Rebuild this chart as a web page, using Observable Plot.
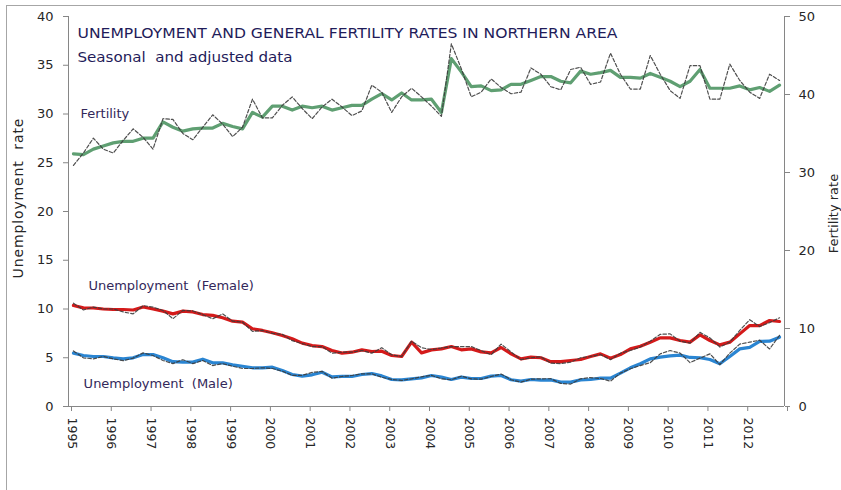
<!DOCTYPE html>
<html>
<head>
<meta charset="utf-8">
<script src="https://cdn.jsdelivr.net/npm/d3@7"></script>
<script src="https://cdn.jsdelivr.net/npm/@observablehq/plot@0.6"></script>
<style>
  html, body { margin: 0; padding: 0; background: #fff; }
  #wrap { position: relative; width: 841px; height: 490px; overflow: hidden; }
  #frameTop { position: absolute; left: 6px; top: 5px; width: 840px; height: 1px; background: #a6a6a6; }
  #frameLeft { position: absolute; left: 6px; top: 5px; width: 1px; height: 490px; background: #a6a6a6; }
  #chart { position: absolute; left: 0; top: 0; }
</style>
</head>
<body>
<div id="wrap"><div id="chart"></div><div id="frameTop"></div><div id="frameLeft"></div></div>
<script>
// ---- data (quarterly, 1995Q1 .. 2012Q4) ----
const startYear = 1995;
const endYear = 2013;
const yearTicks = d3.range(1995, 2014);
const leftTicks = [0, 5, 10, 15, 20, 25, 30, 35, 40];
const rightTicks = [0, 10, 20, 30, 40, 50];

const fertilitySeasonal = [
  30.9, 32.5, 34.4, 33.0, 32.5, 34.1, 35.6, 34.5, 33.0, 36.9, 36.8, 35.0,
  34.2, 35.8, 37.4, 36.2, 34.6, 35.8, 39.4, 37.0, 37.0, 38.6, 39.7, 38.2,
  36.9, 38.4, 39.4, 38.4, 37.3, 37.9, 41.2, 40.3, 37.7, 39.7, 40.8, 39.7,
  38.5, 37.2, 46.5, 43.3, 39.7, 40.3, 42.0, 40.9, 40.1, 40.3, 43.4, 42.6,
  41.0, 40.6, 43.2, 43.5, 41.3, 41.6, 45.3, 42.6, 40.7, 40.7, 45.0, 42.6,
  40.5, 39.5, 43.7, 43.7, 39.4, 39.4, 43.9, 41.8, 40.3, 39.5, 42.6, 41.8
];
const fertilityAdjusted = [
  32.4, 32.3, 33.0, 33.4, 33.8, 34.0, 34.0, 34.4, 34.4, 36.5, 35.8, 35.3,
  35.6, 35.7, 35.7, 36.3, 35.9, 35.6, 37.7, 37.1, 38.5, 38.5, 38.0, 38.5,
  38.3, 38.5, 38.0, 38.3, 38.6, 38.6, 39.4, 40.1, 39.3, 40.2, 39.3, 39.3,
  39.4, 37.7, 44.6, 42.9, 41.0, 41.1, 40.5, 40.6, 41.3, 41.3, 41.8, 42.3,
  42.3, 41.7, 41.5, 43.0, 42.6, 42.8, 43.1, 42.2, 42.2, 42.1, 42.7, 42.2,
  41.7, 41.0, 41.7, 43.2, 40.8, 40.8, 40.8, 41.1, 40.6, 40.9, 40.4, 41.2
];
const femaleSeasonal = [
  10.6, 9.9, 10.2, 10.0, 10.0, 9.7, 9.5, 10.35, 10.2, 9.85, 9.0, 9.85,
  9.8, 9.43, 9.0, 9.5, 8.75, 8.65, 7.7, 7.8, 7.5, 7.4, 6.75, 6.45,
  6.15, 6.15, 5.47, 5.57, 5.57, 5.74, 5.47, 6.03, 5.3, 5.13, 6.7, 6.03,
  5.84, 6.0, 6.15, 6.15, 6.15, 5.74, 5.3, 6.4, 5.6, 4.8, 5.0, 5.1,
  4.44, 4.4, 4.55, 5.0, 5.13, 5.33, 4.8, 5.47, 5.74, 6.1, 6.7, 7.4,
  7.45, 6.7, 6.5, 7.6, 7.04, 6.1, 6.6, 7.8, 8.9, 8.2, 8.6, 9.1
];
const femaleAdjusted = [
  10.36, 10.12, 10.1, 10.0, 9.95, 9.95, 9.9, 10.2, 10.0, 9.78, 9.5, 9.78,
  9.7, 9.43, 9.35, 9.1, 8.75, 8.65, 7.97, 7.8, 7.56, 7.29, 6.94, 6.5,
  6.25, 6.15, 5.74, 5.47, 5.57, 5.81, 5.64, 5.67, 5.23, 5.13, 6.6, 5.5,
  5.81, 5.91, 6.15, 5.81, 5.91, 5.6, 5.5, 6.05, 5.4, 4.89, 5.06, 5.0,
  4.6, 4.6, 4.72, 4.82, 5.13, 5.4, 4.96, 5.33, 5.91, 6.18, 6.6, 7.04,
  7.04, 6.77, 6.6, 7.35, 6.77, 6.32, 6.6, 7.45, 8.3, 8.3, 8.82, 8.72
];
const maleSeasonal = [
  5.7, 4.99, 4.89, 5.13, 4.89, 4.7, 4.96, 5.5, 5.23, 4.72, 4.4, 4.8,
  4.4, 4.72, 4.2, 4.4, 4.13, 3.9, 3.9, 3.97, 3.9, 3.62, 3.2, 3.2,
  3.5, 3.6, 2.9, 3.08, 3.18, 3.35, 3.35, 3.0, 2.77, 2.67, 2.84, 3.04,
  3.2, 2.84, 2.74, 3.11, 2.84, 2.8, 3.08, 3.33, 2.74, 2.5, 2.8, 2.84,
  2.85, 2.37, 2.3, 2.84, 2.97, 2.87, 2.6, 3.42, 3.87, 4.2, 4.5, 5.4,
  5.74, 5.47, 4.5, 4.96, 5.4, 4.3, 5.47, 6.4, 6.6, 6.8, 5.9, 7.3
];
const maleAdjusted = [
  5.47, 5.23, 5.13, 5.13, 4.99, 4.89, 4.99, 5.33, 5.33, 4.99, 4.6, 4.55,
  4.55, 4.85, 4.48, 4.48, 4.27, 4.13, 3.97, 3.97, 4.03, 3.69, 3.28, 3.11,
  3.25, 3.52, 3.04, 3.08, 3.08, 3.28, 3.38, 3.14, 2.77, 2.74, 2.84, 2.94,
  3.18, 3.01, 2.77, 3.01, 2.87, 2.87, 3.11, 3.18, 2.74, 2.6, 2.77, 2.7,
  2.73, 2.5, 2.5, 2.73, 2.77, 2.91, 2.91, 3.42, 3.97, 4.38, 4.89, 5.06,
  5.2, 5.27, 5.03, 5.0, 4.82, 4.38, 5.13, 5.91, 6.07, 6.67, 6.7, 7.11
];

const titleText = "UNEMPLOYMENT AND GENERAL FERTILITY RATES IN NORTHERN AREA";
const subtitleText = "Seasonal  and adjusted data";
const leftLabel = "Unemployment  rate";
const rightLabel = "Fertility rate";
const seriesLabels = ["Fertility", "Unemployment  (Female)", "Unemployment  (Male)"];

// ---- helpers ----
const fertScale = 40 / 50; // right axis (0-50) mapped onto left axis (0-40)
const quarterX = i => startYear + (i + 0.5) / 4;
const toPoints = (vals, k = 1) => vals.map((v, i) => ({x: quarterX(i), y: v * k}));

const axisColor = "#868686";
const textColor = "#262626";
const labelColor = "#33285a";
const font = "DejaVu Sans, Verdana, sans-serif";

const green = "#5f9f72", red = "#d41a1a", blue = "#2a85d2", dash = "#3c3c3c";

const adjusted = [
  {pts: toPoints(fertilityAdjusted, fertScale), color: green},
  {pts: toPoints(femaleAdjusted), color: red},
  {pts: toPoints(maleAdjusted), color: blue}
];
const seasonal = [
  toPoints(fertilitySeasonal, fertScale),
  toPoints(femaleSeasonal),
  toPoints(maleSeasonal)
];

const chart = Plot.plot({
  width: 841,
  height: 490,
  marginLeft: 68,
  marginRight: 57,
  marginTop: 16,
  marginBottom: 84,
  style: {fontFamily: font, background: "white", overflow: "visible"},
  x: {domain: [startYear, endYear]},
  y: {domain: [0, 40]},
  marks: [
    Plot.ruleY([0], {stroke: axisColor}),
    Plot.ruleX([startYear, endYear], {stroke: axisColor}),
    Plot.axisY(leftTicks, {anchor: "left", tickSize: 5, tickPadding: 10, fontSize: 13, color: textColor, stroke: axisColor, label: null}),
    Plot.axisY(rightTicks.map(v => v * fertScale), {anchor: "right", tickSize: 5, tickPadding: 9, fontSize: 13, color: textColor, stroke: axisColor, tickFormat: d => String(Math.round(d / fertScale)), label: null}),
    Plot.axisX(yearTicks, {anchor: "bottom", tickSize: 5, tickPadding: 6, tickRotate: 90, dx: 3, fontSize: 12.5, color: textColor, stroke: axisColor, tickFormat: d => d < endYear ? String(d) : "", label: null}),
    ...adjusted.map(s => Plot.line(s.pts, {x: "x", y: "y", stroke: s.color, strokeWidth: 3.2, strokeLinejoin: "round"})),
    ...seasonal.map(s => Plot.line(s, {x: "x", y: "y", stroke: dash, strokeWidth: 1.2, strokeDasharray: "3.5,2", strokeOpacity: 0.9})),
    Plot.text([titleText], {frameAnchor: "top-left", dx: 9, dy: 17, lineAnchor: "middle", textAnchor: "start", fontSize: 14, fill: "#1f1c5a", className: "ttl"}),
    Plot.text([subtitleText], {frameAnchor: "top-left", dx: 9, dy: 41, lineAnchor: "middle", textAnchor: "start", fontSize: 14.5, fill: "#1f1c5a", className: "sub"}),
    Plot.text([seriesLabels[0]], {x: () => 1995.3, y: () => 30.05, textAnchor: "start", fontSize: 13, fill: labelColor}),
    Plot.text([seriesLabels[1]], {x: () => 1995.5, y: () => 12.4, textAnchor: "start", fontSize: 13, fill: labelColor}),
    Plot.text([seriesLabels[2]], {x: () => 1995.38, y: () => 2.36, textAnchor: "start", fontSize: 13, fill: labelColor}),
    Plot.text([leftLabel], {frameAnchor: "left", textAnchor: "middle", dx: -50, dy: -13, rotate: -90, fontSize: 14, fill: textColor, className: "ylab"}),
    Plot.text([rightLabel], {frameAnchor: "right", textAnchor: "middle", dx: 49, dy: 2, rotate: -90, fontSize: 13, fill: textColor})
  ]
});
document.getElementById("chart").appendChild(chart);

// fit long text runs to the widths of the original layout
d3.select(chart).selectAll(".ttl text").attr("textLength", 540).attr("lengthAdjust", "spacingAndGlyphs");
d3.select(chart).selectAll(".sub text").attr("textLength", 215).attr("lengthAdjust", "spacingAndGlyphs");
d3.select(chart).selectAll(".ylab text").attr("textLength", 160).attr("lengthAdjust", "spacing");
</script>
</body>
</html>
